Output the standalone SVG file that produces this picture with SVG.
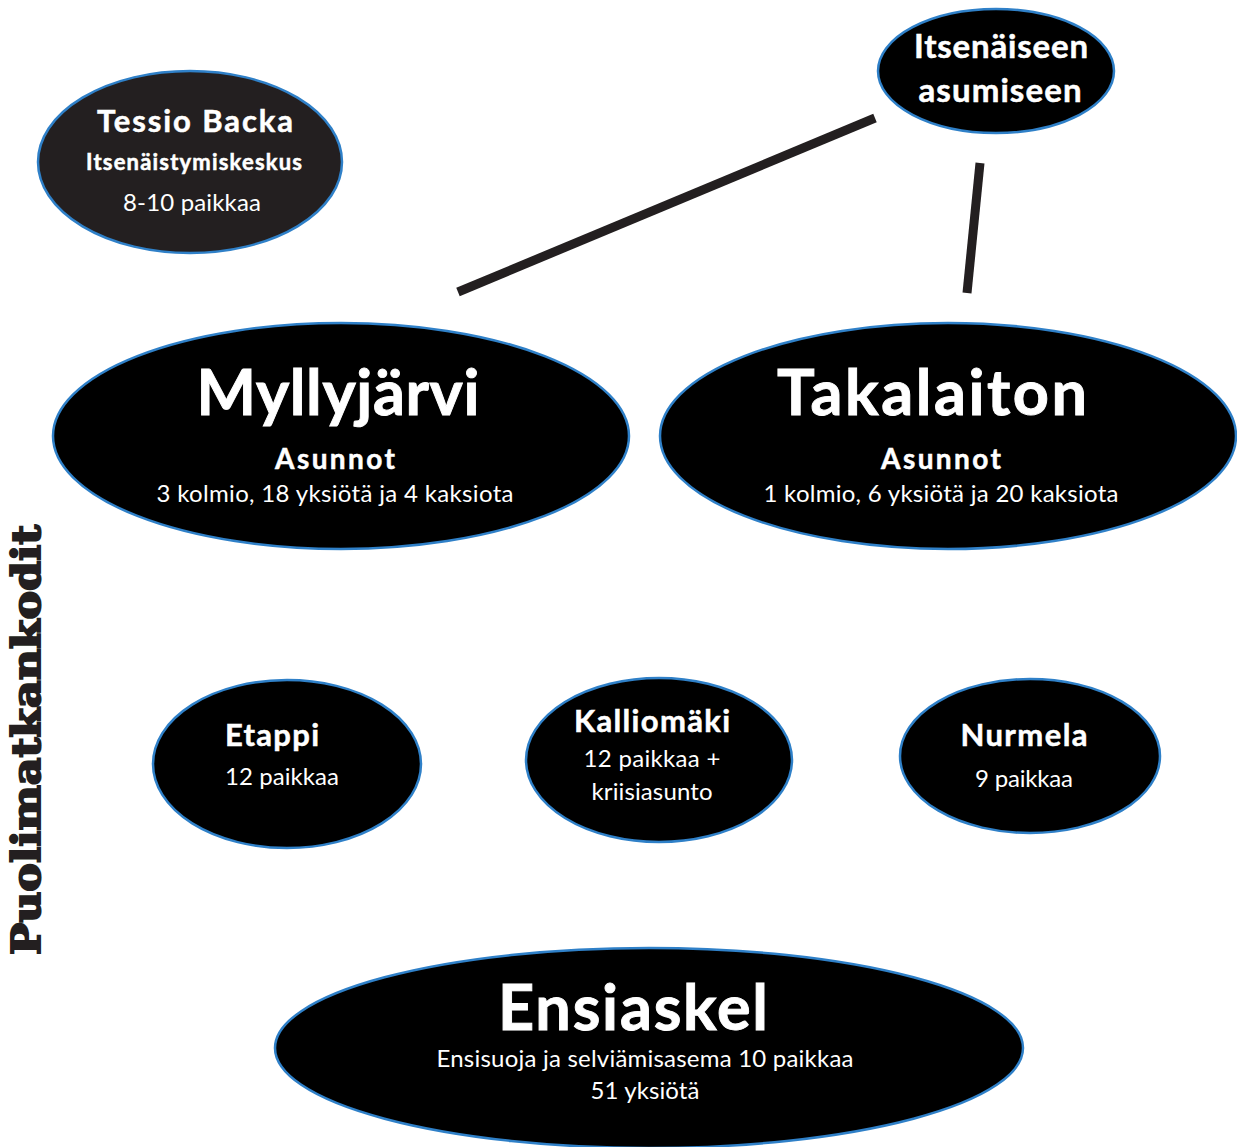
<svg xmlns="http://www.w3.org/2000/svg" width="1237" height="1147" viewBox="0 0 1237 1147">
<style>
.n{fill:#000;stroke:#2f80c8;stroke-width:2.5}
.d{fill:#231f20}
text{fill:#fff;font-family:Lato,"Open Sans","Liberation Sans",sans-serif;text-anchor:middle}
.b{font-weight:bold;stroke:#fff;stroke-width:0.5}
.B{font-weight:bold;stroke:#fff;stroke-width:0.9}
.c{stroke:#231f20;stroke-width:9;fill:none}
</style>
<rect width="1237" height="1147" fill="#fff"/>
<g id="connectors">
<line class="c" x1="458" y1="292" x2="875" y2="118"/>
<line class="c" x1="980" y1="163" x2="967" y2="293"/>
</g>
<g id="tessio">
<ellipse class="n d" cx="190" cy="162" rx="152" ry="91"/>
<text class="b" x="195" y="132" font-size="31" textLength="196">Tessio  Backa</text>
<text class="b" x="194" y="170" font-size="22" textLength="216">Itsenäistymiskeskus</text>
<text x="192" y="211" font-size="24" textLength="138">8-10  paikkaa</text>
</g>
<g id="itsenaiseen">
<ellipse class="n" cx="996" cy="71" rx="118" ry="62"/>
<text class="b" x="1001" y="58" font-size="33" textLength="174">Itsenäiseen</text>
<text class="b" x="1000" y="102" font-size="33" textLength="163">asumiseen</text>
</g>
<g id="myllyjarvi">
<ellipse class="n" cx="341" cy="436" rx="288" ry="113"/>
<text class="B" x="338" y="415" font-size="63" textLength="283">Myllyjärvi</text>
<text class="b" x="335" y="469" font-size="28" textLength="120">Asunnot</text>
<text x="335" y="502" font-size="24" textLength="357">3 kolmio, 18 yksiötä ja 4 kaksiota</text>
</g>
<g id="takalaiton">
<ellipse class="n" cx="948" cy="436" rx="288" ry="113"/>
<text class="B" x="932" y="415" font-size="63" textLength="310">Takalaiton</text>
<text class="b" x="941" y="469" font-size="28" textLength="120">Asunnot</text>
<text x="941" y="502" font-size="24" textLength="355">1 kolmio, 6 yksiötä ja 20 kaksiota</text>
</g>
<g id="etappi">
<ellipse class="n" cx="287" cy="764" rx="134" ry="84"/>
<text class="b" x="272" y="746" font-size="31" textLength="94">Etappi</text>
<text x="282" y="785" font-size="24" textLength="114">12  paikkaa</text>
</g>
<g id="kalliomaki">
<ellipse class="n" cx="659" cy="760" rx="133" ry="82"/>
<text class="b" x="652" y="732" font-size="31" textLength="156">Kalliomäki</text>
<text x="652" y="767" font-size="24" textLength="137">12 paikkaa +</text>
<text x="652" y="800" font-size="24" textLength="121">kriisiasunto</text>
</g>
<g id="nurmela">
<ellipse class="n" cx="1030" cy="756" rx="130" ry="77"/>
<text class="b" x="1024" y="746" font-size="31" textLength="127">Nurmela</text>
<text x="1024" y="787" font-size="24" textLength="98">9 paikkaa</text>
</g>
<g id="ensiaskel">
<ellipse class="n" cx="649" cy="1048" rx="374" ry="100"/>
<text class="B" x="633" y="1030" font-size="63" textLength="270">Ensiaskel</text>
<text x="645" y="1067" font-size="24" textLength="417">Ensisuoja  ja  selviämisasema  10  paikkaa</text>
<text x="645" y="1099" font-size="24" textLength="109">51 yksiötä</text>
</g>
<g id="label">
<text transform="translate(40,740) rotate(-90)" x="0" y="0" style="fill:#231f20;stroke:#231f20;stroke-width:2;font-family:'DejaVu Serif','Liberation Serif',serif;font-weight:bold" font-size="40" textLength="430" lengthAdjust="spacingAndGlyphs">Puolimatkankodit</text>
</g>
</svg>
